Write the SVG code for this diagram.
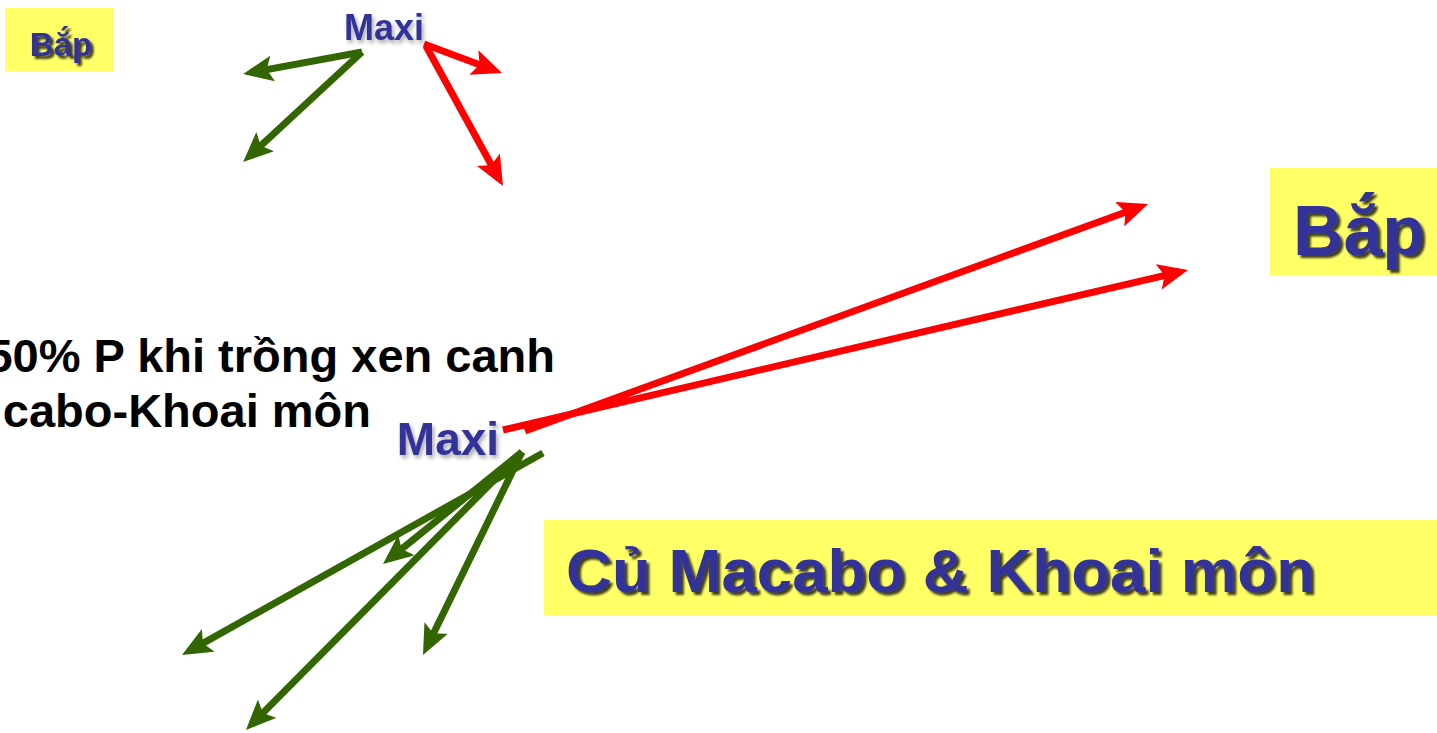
<svg xmlns="http://www.w3.org/2000/svg" width="1437" height="733" viewBox="0 0 1437 733">
<style>
.box{fill:#FFFF66}
.lbl{font-family:"Liberation Sans",Arial,sans-serif;font-weight:bold;fill:#333399}
.blk{font-family:"Liberation Sans",Arial,sans-serif;font-weight:bold;fill:#000}
.g{stroke:#336600;stroke-width:7;fill:none;marker-end:url(#ag)}
.r{stroke:#FF0000;stroke-width:7;fill:none;marker-end:url(#ar)}
</style>
<defs>
<filter id="sh" x="-10%" y="-10%" width="130%" height="140%">
<feDropShadow dx="3" dy="3" stdDeviation="1.2" flood-color="#000" flood-opacity="0.75"/>
</filter>
<filter id="shs" x="-10%" y="-10%" width="130%" height="140%">
<feDropShadow dx="2" dy="3" stdDeviation="2" flood-color="#000" flood-opacity="0.35"/>
</filter>
<marker id="ag" markerUnits="userSpaceOnUse" markerWidth="30" markerHeight="26" refX="22" refY="13" orient="auto">
<path d="M0,0 L30,13 L0,26 L6,13 z" fill="#336600"/>
</marker>
<marker id="ar" markerUnits="userSpaceOnUse" markerWidth="30" markerHeight="26" refX="22" refY="13" orient="auto">
<path d="M0,0 L30,13 L0,26 L6,13 z" fill="#FF0000"/>
</marker>
</defs>
<rect width="1437" height="733" fill="#fff"/>

<g id="connectors">
<line class="g" x1="362" y1="52" x2="251" y2="72.5"/>
<line class="g" x1="362" y1="52" x2="249" y2="156.6"/>
<line class="r" x1="424" y1="44" x2="494.5" y2="70.2"/>
<line class="r" x1="426" y1="46" x2="499.1" y2="179"/>
<line class="r" x1="503" y1="430" x2="1180.2" y2="271.8"/>
<line class="r" x1="525" y1="431" x2="1140.5" y2="206.7"/>
<line class="g" x1="543" y1="453" x2="189" y2="651.1"/>
<line class="g" x1="522" y1="452" x2="251.6" y2="724.3"/>
<line class="g" x1="522" y1="452" x2="426.5" y2="647.8"/>
<line class="g" x1="522" y1="452" x2="389.2" y2="559"/>
</g>

<g id="bap-small">
<rect class="box" x="5" y="8" width="109" height="63"/>
<text class="lbl" x="61" y="56" font-size="33" text-anchor="middle" filter="url(#sh)">Bắp</text>
</g>

<g id="maxi-small">
<text class="lbl" x="384" y="40" font-size="36" text-anchor="middle" filter="url(#shs)">Maxi</text>
</g>

<g id="bap-large">
<rect class="box" x="1270" y="168" width="167" height="108"/>
<text class="lbl" x="1359" y="255" font-size="70" text-anchor="middle" filter="url(#sh)">Bắp</text>
</g>

<g id="maxi-large">
<text class="lbl" x="448" y="455" font-size="46" text-anchor="middle" filter="url(#shs)">Maxi</text>
</g>

<g id="cu-macabo">
<rect class="box" x="544" y="520" width="893" height="95"/>
<text class="lbl" x="566" y="592" font-size="62" textLength="749" lengthAdjust="spacingAndGlyphs" filter="url(#sh)">Củ Macabo &amp; Khoai môn</text>
</g>

<g id="note">
<text class="blk" x="555" y="372" font-size="47" text-anchor="end">50% P khi trồng xen canh</text>
<text class="blk" x="371" y="427" font-size="47" text-anchor="end">cabo-Khoai môn</text>
</g>
</svg>
